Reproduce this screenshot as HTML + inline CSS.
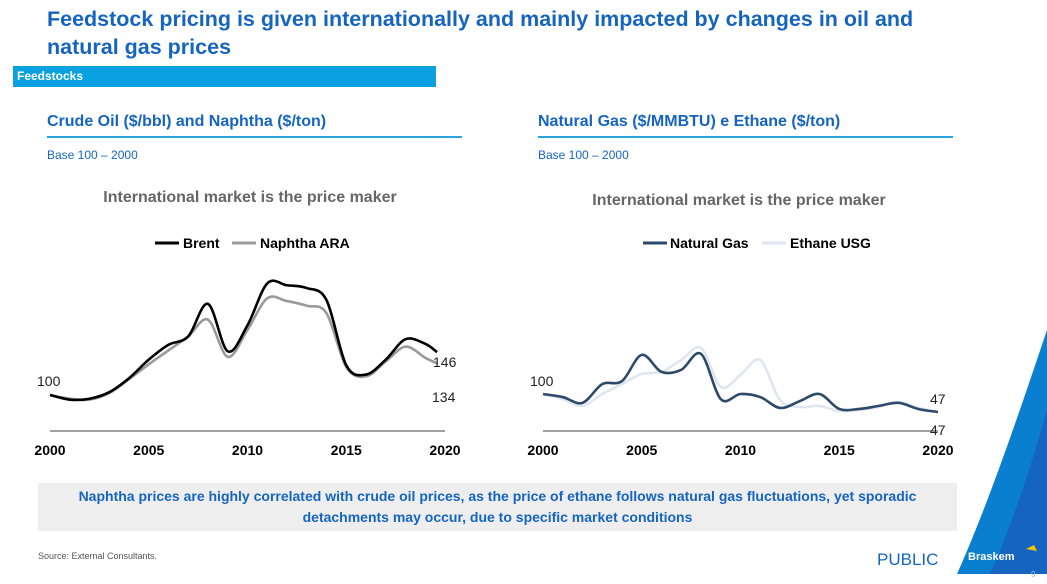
<!DOCTYPE html>
<html><head><meta charset="utf-8"><style>
body{margin:0;width:1047px;height:584px;overflow:hidden;background:#fff;font-family:"Liberation Sans",sans-serif;position:relative}
.a{position:absolute;white-space:nowrap}
</style></head><body>
<div class="a" style="left:47px;top:5px;font-size:21.5px;font-weight:bold;color:#1565c0;line-height:28px;white-space:normal;width:900px">Feedstock pricing is given internationally and mainly impacted by changes in oil and natural gas prices</div>
<div class="a" style="left:13px;top:66px;width:423px;height:21px;background:#0aa1e0;color:#fff;font-size:12px;font-weight:bold;line-height:21px;padding-left:4px;box-sizing:border-box">Feedstocks</div>
<div class="a" style="left:47px;top:113px;font-size:16px;font-weight:bold;color:#1565c0">Crude Oil ($/bbl) and Naphtha ($/ton)</div>
<div class="a" style="left:47px;top:136px;width:415px;height:2px;background:#2aa3e0"></div>
<div class="a" style="left:538px;top:113px;font-size:16px;font-weight:bold;color:#1565c0">Natural Gas ($/MMBTU) e Ethane ($/ton)</div>
<div class="a" style="left:538px;top:136px;width:415px;height:2px;background:#2aa3e0"></div>
<div class="a" style="left:47px;top:148px;font-size:12px;color:#1565c0">Base 100 – 2000</div>
<div class="a" style="left:538px;top:148px;font-size:12px;color:#1565c0">Base 100 – 2000</div>
<svg class="a" style="left:0;top:0" width="1047" height="584" id="svg"></svg>
<div class="a" style="left:38px;top:483px;width:919px;height:48px;background:#eeeeee;color:#1565c0;font-weight:bold;font-size:14px;text-align:center;line-height:21px;padding-top:3px;box-sizing:border-box;white-space:normal">Naphtha prices are highly correlated with crude oil prices, as the price of ethane follows natural gas fluctuations, yet sporadic detachments may occur, due to specific market conditions</div>
<div class="a" style="left:38px;top:551px;font-size:9px;color:#555">Source: External Consultants.</div>
<div class="a" style="left:877px;top:550px;font-size:17px;color:#1565c0">PUBLIC</div>
<svg class="a" style="left:930px;top:330px" width="117" height="254">
<path d="M117 0 C90 80 60 170 27 244 L117 244 Z" fill="#0a7fd0"/>
<path d="M117 80 C100 140 80 200 60 244 L117 244Z" fill="#1565c0"/>
<text x="38" y="230" font-size="11" font-weight="bold" fill="#fff" font-family="Liberation Sans">Braskem</text>
<path d="M96 219 l8 -4 l3 6z" fill="#f5c400"/>
<text x="101" y="247" font-size="8" fill="#8fc8f0" font-family="Liberation Sans">9</text>
</svg>
<script>
const years=[2000,2001,2002,2003,2004,2005,2006,2007,2008,2009,2010,2011,2012,2013,2014,2015,2016,2017,2018,2019,2019.6];
const brent=[100,95,96,103,118,138,154,163,198,147,175,220,218,215,202,132,122,138,160,155,146];
const naphtha=[100,96,95,102,117,133,148,163,181,141,170,204,201,196,188,130,120,136,152,140,134];
const years2=[2000,2001,2002,2003,2004,2005,2006,2007,2008,2009,2010,2011,2012,2013,2014,2015,2016,2017,2018,2019,2020];
const natgas=[100,91,74,129,138,215,165,171,218,85,100,91,59,79,100,56,56,65,74,56,47];
const ethane=[100,85,65,100,129,159,165,200,235,121,156,200,82,62,65,50,53,62,76,59,47];
const ticks=[2000,2005,2010,2015,2020];
const svg=document.getElementById('svg');const NS='http://www.w3.org/2000/svg';
function mk(t,a){const e=document.createElementNS(NS,t);for(const k in a)e.setAttribute(k,a[k]);svg.appendChild(e);return e;}
function txt(x,y,s,o){const e=mk('text',Object.assign({x:x,y:y,'font-family':'Liberation Sans','font-size':13},o||{}));e.textContent=s;return e;}
function smooth(pts){let d='M'+pts[0][0]+' '+pts[0][1];for(let i=0;i<pts.length-1;i++){const p0=pts[Math.max(0,i-1)],p1=pts[i],p2=pts[i+1],p3=pts[Math.min(pts.length-1,i+2)];d+=' C'+(p1[0]+(p2[0]-p0[0])/6)+' '+(p1[1]+(p2[1]-p0[1])/6)+' '+(p2[0]-(p3[0]-p1[0])/6)+' '+(p2[1]-(p3[1]-p1[1])/6)+' '+p2[0]+' '+p2[1];}return d;}
function chart(x0,x1,y100,k,series,name){
 const xs=y=>x0+(y-2000)/20*(x1-x0);const ys=v=>y100-(v-100)*k;
 const ax=mk('line',{x1:x0,x2:x1,y1:431,y2:431,stroke:'#444','stroke-width':1});
 
 ticks.forEach(t=>{const e=txt(xs(t),455,t,{'text-anchor':'middle','font-weight':'bold','font-size':14});});
 series.forEach(s=>{const p=mk('path',{d:smooth(s.x.map((y,i)=>[xs(y),ys(s.v[i])])),fill:'none',stroke:s.c,'stroke-width':2.6});
  });
}
chart(50,445,395,0.93,[{x:years,v:naphtha,c:'#9a9a9a',n:'naphtha-line'},{x:years,v:brent,c:'#000',n:'brent-line'}],'left');
chart(543,938,394,0.34,[{x:years2,v:ethane,c:'#dfe6f0',n:'ethane-line'},{x:years2,v:natgas,c:'#2e4a6b',n:'natural-gas-line'}],'right');
[[37,386,'100'],[433,367,'146'],[432,402,'134'],[530,386,'100'],[930,404,'47'],[930,435,'47']].forEach((l,i)=>{const e=txt(l[0],l[1],l[2],{'font-size':14,fill:'#222'});});
let t=txt(250,202,'International market is the price maker',{'text-anchor':'middle','font-weight':'bold','font-size':16,fill:'#666'});
t=txt(739,205,'International market is the price maker',{'text-anchor':'middle','font-weight':'bold','font-size':16,fill:'#666'});
[[155,'#000','Brent',183],[232,'#9a9a9a','Naphtha ARA',260],[643,'#2e4a6b','Natural Gas',670],[762,'#dfe6f0','Ethane USG',790]].forEach(l=>{
 const ln=mk('line',{x1:l[0],x2:l[0]+24,y1:243,y2:243,stroke:l[1],'stroke-width':3});
 const e=txt(l[3],248,l[2],{'font-weight':'bold','font-size':14});});
</script>
</body></html>
